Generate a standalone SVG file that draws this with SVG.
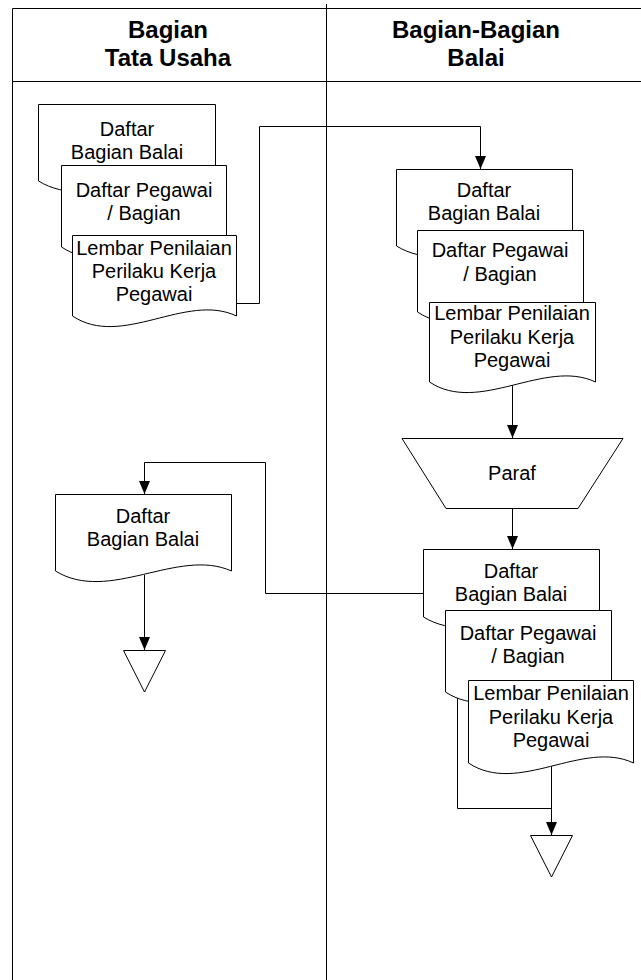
<svg xmlns="http://www.w3.org/2000/svg" width="641" height="980" viewBox="0 0 641 980">
  <style>
    .lane { fill: none; stroke: #000; stroke-width: 1; }
    .shape { fill: #fff; stroke: #000; stroke-width: 1; }
    .conn { fill: none; stroke: #000; stroke-width: 1; }
    .head { font-family: "Liberation Sans", Arial, sans-serif; font-weight: bold; font-size: 24px; text-anchor: middle; fill: #000; }
    .lbl { font-family: "Liberation Sans", Arial, sans-serif; font-size: 20px; text-anchor: middle; fill: #000; }
  </style>
  <defs>
    <marker id="arrow" viewBox="0 0 13 11" refX="13" refY="5.5" markerWidth="13" markerHeight="11" markerUnits="userSpaceOnUse" orient="auto">
      <path d="M0,0 L13,5.5 L0,11 Z" fill="#000"/>
    </marker>
  </defs>
  <rect width="641" height="980" fill="#fff"/>

  <!-- swimlane frame -->
  <g id="lanes">
    <path class="lane" d="M12.5,980 V8.5 H641 M12.5,81.5 H641 M326.5,4 V980"/>
    <text class="head" x="168" y="38">Bagian</text>
    <text class="head" x="168" y="66">Tata Usaha</text>
    <text class="head" x="476" y="38">Bagian-Bagian</text>
    <text class="head" x="476" y="66">Balai</text>
  </g>

  <!-- connectors -->
  <g id="connectors">
    <path class="conn" d="M236,303.5 H259.5 V126.5 H480.5 V169" marker-end="url(#arrow)"/>
    <path class="conn" d="M512.5,382 V438" marker-end="url(#arrow)"/>
    <path class="conn" d="M512.5,508 V549" marker-end="url(#arrow)"/>
    <path class="conn" d="M423,593.5 H265.5 V462.5 H144.5 V494" marker-end="url(#arrow)"/>
    <path class="conn" d="M144.5,575 V650" marker-end="url(#arrow)"/>
    <path class="conn" d="M457.5,698 V808.5 H551.5"/>
    <path class="conn" d="M551.5,764 V835" marker-end="url(#arrow)"/>
  </g>

  <!-- Bagian Tata Usaha: outgoing document set -->
  <g id="tu-daftar-bagian">
    <path class="shape" d="M38.5,104.5 H215.5 V181 C162,157 92,214 38.5,181 Z"/>
    <text class="lbl" x="127" y="136">Daftar</text>
    <text class="lbl" x="127" y="159">Bagian Balai</text>
  </g>
  <g id="tu-daftar-pegawai">
    <path class="shape" d="M61.5,165.5 H226.5 V247 C176,223 111,280 61.5,247 Z"/>
    <text class="lbl" x="144" y="197">Daftar Pegawai</text>
    <text class="lbl" x="144" y="220">/ Bagian</text>
  </g>
  <g id="tu-lembar-penilaian">
    <path class="shape" d="M72.5,235.5 H236.5 V316 C186,292 122,349 72.5,316 Z"/>
    <text class="lbl" x="154" y="255">Lembar Penilaian</text>
    <text class="lbl" x="154" y="278">Perilaku Kerja</text>
    <text class="lbl" x="154" y="301">Pegawai</text>
  </g>

  <!-- Bagian-Bagian Balai: received document set -->
  <g id="bb-daftar-bagian">
    <path class="shape" d="M396.5,169.5 H572.5 V246 C519,222 450,279 396.5,246 Z"/>
    <text class="lbl" x="484" y="197">Daftar</text>
    <text class="lbl" x="484" y="220">Bagian Balai</text>
  </g>
  <g id="bb-daftar-pegawai">
    <path class="shape" d="M417.5,230.5 H583.5 V312 C533,288 467,345 417.5,312 Z"/>
    <text class="lbl" x="500" y="257">Daftar Pegawai</text>
    <text class="lbl" x="500" y="281">/ Bagian</text>
  </g>
  <g id="bb-lembar-penilaian">
    <path class="shape" d="M429.5,302.5 H595.5 V382 C545,358 479,415 429.5,382 Z"/>
    <text class="lbl" x="512" y="320">Lembar Penilaian</text>
    <text class="lbl" x="512" y="344">Perilaku Kerja</text>
    <text class="lbl" x="512" y="367">Pegawai</text>
  </g>

  <!-- manual operation: Paraf -->
  <g id="paraf">
    <path class="shape" d="M402,438.5 H623 L578,508.5 H446 Z"/>
    <text class="lbl" x="512" y="480">Paraf</text>
  </g>

  <!-- Bagian-Bagian Balai: signed document set -->
  <g id="bb-daftar-bagian-paraf">
    <path class="shape" d="M423.5,549.5 H599.5 V617 C546,593 477,650 423.5,617 Z"/>
    <text class="lbl" x="511" y="578">Daftar</text>
    <text class="lbl" x="511" y="601">Bagian Balai</text>
  </g>
  <g id="bb-daftar-pegawai-paraf">
    <path class="shape" d="M445.5,610.5 H611.5 V692 C561,668 495,725 445.5,692 Z"/>
    <text class="lbl" x="528" y="640">Daftar Pegawai</text>
    <text class="lbl" x="528" y="663">/ Bagian</text>
  </g>
  <g id="bb-lembar-penilaian-paraf">
    <path class="shape" d="M468.5,680.5 H633.5 V763 C583,739 518,796 468.5,763 Z"/>
    <text class="lbl" x="551" y="700">Lembar Penilaian</text>
    <text class="lbl" x="551" y="724">Perilaku Kerja</text>
    <text class="lbl" x="551" y="747">Pegawai</text>
  </g>

  <!-- Bagian Tata Usaha: returned list -->
  <g id="tu-daftar-bagian-kembali">
    <path class="shape" d="M55.5,494.5 H231.5 V571 C178,547 109,604 55.5,571 Z"/>
    <text class="lbl" x="143" y="523">Daftar</text>
    <text class="lbl" x="143" y="546">Bagian Balai</text>
  </g>

  <!-- archive (offline storage) -->
  <g id="arsip-tu">
    <path class="shape" d="M123.5,650.5 H165.5 L144.5,692 Z"/>
  </g>
  <g id="arsip-bb">
    <path class="shape" d="M530.5,835.5 H572.5 L551.5,877 Z"/>
  </g>
</svg>
